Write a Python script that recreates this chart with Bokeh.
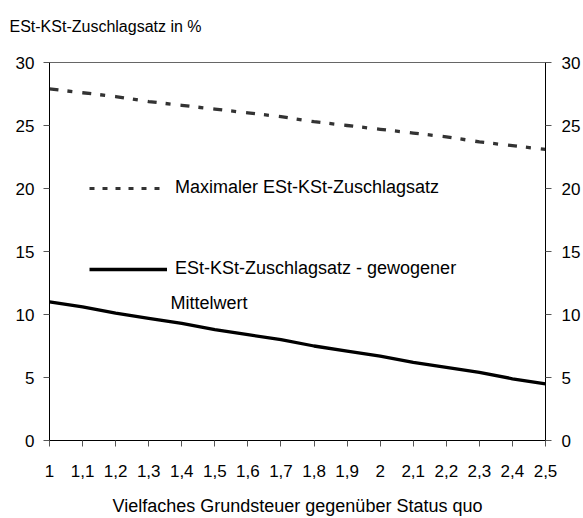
from bokeh.plotting import figure
from bokeh.models import (Range1d, LinearAxis, FixedTicker, Label, Legend, LegendItem,
                          ColumnDataSource, CDSView, IndexFilter)
from bokeh.embed import file_html
from bokeh.resources import INLINE

# ---- data ----
x_values = [1.0, 1.1, 1.2, 1.3, 1.4, 1.5, 1.6, 1.7, 1.8, 1.9, 2.0, 2.1, 2.2, 2.3, 2.4, 2.5]
max_rate = [27.9, 27.6, 27.3, 26.9, 26.6, 26.3, 26.0, 25.7, 25.3, 25.0, 24.7, 24.4, 24.1, 23.7, 23.4, 23.1]
mean_rate = [11.0, 10.6, 10.1, 9.7, 9.3, 8.8, 8.4, 8.0, 7.5, 7.1, 6.7, 6.2, 5.8, 5.4, 4.9, 4.5]
x_tick_labels = ["1", "1,1", "1,2", "1,3", "1,4", "1,5", "1,6", "1,7", "1,8", "1,9",
                 "2", "2,1", "2,2", "2,3", "2,4", "2,5"]
y_ticks = [0, 5, 10, 15, 20, 25, 30]
series_names = ["Maximaler ESt-KSt-Zuschlagsatz", "ESt-KSt-Zuschlagsatz - gewogener", "Mittelwert"]
y_title = "ESt-KSt-Zuschlagsatz in %"
x_title = "Vielfaches Grundsteuer gegenüber Status quo"

FONT = "Liberation Sans"

p = figure(width=583, height=518, output_backend="svg", toolbar_location=None,
           x_range=Range1d(1, 2.5), y_range=Range1d(0, 30),
           min_border_left=49, min_border_right=36, min_border_top=62, min_border_bottom=77)
p.background_fill_color = "white"
p.border_fill_color = "white"
p.outline_line_color = "#666666"
p.outline_line_width = 1
p.xgrid.visible = False
p.ygrid.visible = False

# chart title (top-left); the trailing empty line lifts it away from the frame
p.title.text = y_title + "\n"
p.title.align = "left"
p.title.offset = -40
p.title.text_font = FONT
p.title.text_font_size = "16px"
p.title.text_font_style = "normal"
p.title.text_color = "black"
p.title.standoff = 22

def style_axis(ax, fs="17px"):
    ax.axis_line_color = "black"
    ax.axis_line_width = 1
    ax.major_tick_line_color = "#555555"
    ax.major_tick_out = 6
    ax.major_tick_in = 0
    ax.minor_tick_line_color = None
    ax.major_label_text_font = FONT
    ax.major_label_text_font_size = fs
    ax.major_label_text_color = "black"

# x axis
xa = p.xaxis[0]
xa.ticker = FixedTicker(ticks=x_values)
xa.major_label_overrides = {v: lab for v, lab in zip(x_values, x_tick_labels)}
style_axis(xa)
xa.major_label_standoff = 18
xa.axis_label = x_title
xa.axis_label_text_font = FONT
xa.axis_label_text_font_size = "18px"
xa.axis_label_text_font_style = "normal"
xa.axis_label_text_color = "black"
xa.axis_label_standoff = 16

# left y axis
ya = p.yaxis[0]
ya.ticker = FixedTicker(ticks=y_ticks)
style_axis(ya)
ya.major_label_standoff = 9

# right y axis
ra = LinearAxis(ticker=FixedTicker(ticks=y_ticks))
style_axis(ra)
ra.major_label_standoff = 10
p.add_layout(ra, "right")

# data lines
src = ColumnDataSource(dict(x=x_values, ymax=max_rate, ymean=mean_rate))
p.line("x", "ymax", source=src, line_color="#333333", line_width=3.3,
       line_dash="9 9 5 10", line_cap="butt")
solid = p.line("x", "ymean", source=src, line_color="black", line_width=3.3)

# legend sample for the dashed series (single point -> draws nothing in the plot)
leg_dash = p.line("x", "ymax", source=src, view=CDSView(filter=IndexFilter(indices=[0])),
                  line_color="#333333", line_width=3, line_dash="5 8")

def make_legend(label, rend, loc):
    lg = Legend(items=[LegendItem(label=label, renderers=[rend])], location=loc)
    lg.border_line_color = None
    lg.background_fill_alpha = 0
    lg.padding = 0
    lg.margin = 0
    lg.glyph_width = 78
    lg.glyph_height = 20
    lg.label_height = 20
    lg.label_standoff = 8
    lg.label_text_font = FONT
    lg.label_text_font_size = "18px"
    lg.label_text_color = "black"
    p.add_layout(lg, "center")

make_legend(series_names[0], leg_dash, (40, 242))
make_legend(series_names[1], solid, (40, 161))

p.add_layout(Label(x=121, y=138, x_units="screen", y_units="screen", text=series_names[2],
                   text_font=FONT, text_font_size="18px", text_color="black",
                   text_baseline="alphabetic"))

open("out.html", "w").write(file_html(p, INLINE))
